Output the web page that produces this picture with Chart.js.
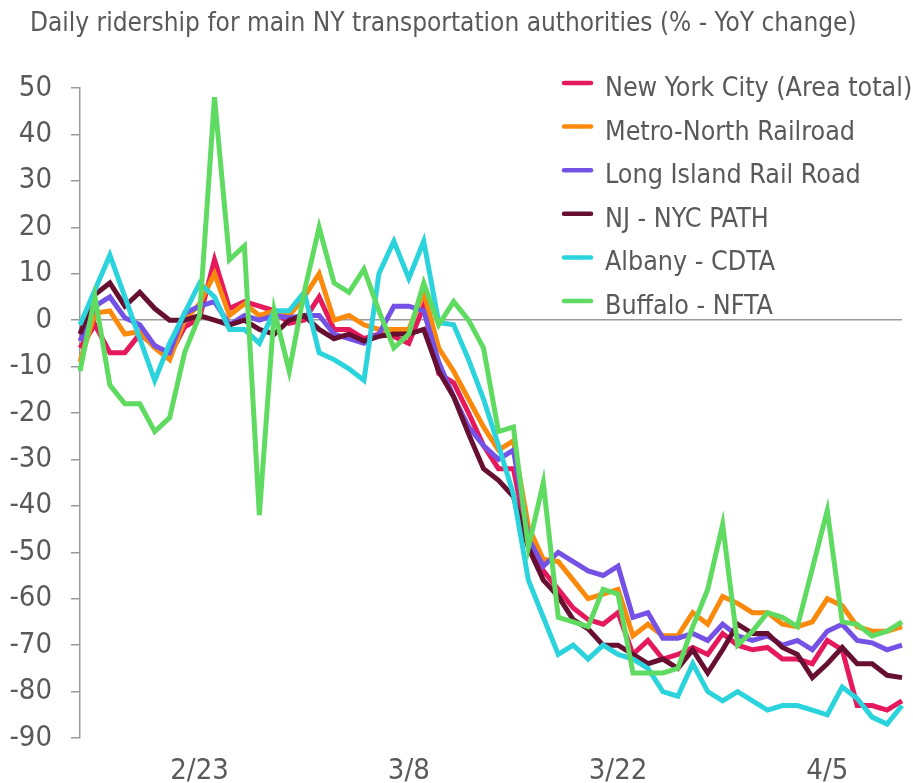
<!DOCTYPE html>
<html>
<head>
<meta charset="utf-8">
<script src="https://cdn.jsdelivr.net/npm/chart.js@4.4.0/dist/chart.umd.min.js"></script>
<style>
  body { margin: 0; background: #fff; }
</style>
</head>
<body>
<canvas id="ridership" width="913" height="783"></canvas>
<script>
// days from 2/15 to 4/10
const days = ['2/15','2/16','2/17','2/18','2/19','2/20','2/21','2/22','2/23','2/24','2/25','2/26','2/27','2/28','2/29',
  '3/1','3/2','3/3','3/4','3/5','3/6','3/7','3/8','3/9','3/10','3/11','3/12','3/13','3/14','3/15','3/16','3/17','3/18',
  '3/19','3/20','3/21','3/22','3/23','3/24','3/25','3/26','3/27','3/28','3/29','3/30','3/31',
  '4/1','4/2','4/3','4/4','4/5','4/6','4/7','4/8','4/9','4/10'];
const shownTicks = ['2/23', '3/8', '3/22', '4/5'];

const nyc = [-6, -1, -7, -7, -3, -5.5, -7.5, -1.5, 0.5, 13, 2.5, 4, 3, 2, -0.7, 0, 5, -2, -2, -4, -3, -3.5, -5, 3,
  -11.5, -13.5, -20, -27, -32, -32, -48, -54, -58, -62, -64.5, -65.5, -63, -72, -69, -73, -72, -70.5, -72, -67.5,
  -70, -71, -70.5, -73, -73, -74, -69, -71, -83, -83, -84, -82];
const metroNorth = [-9, 1.5, 2, -3, -2.5, -6, -8.5, 0, 3.5, 10, 1, 3.5, 1, 2, 1, 5, 10, 0, 1, -1, -2, -2, -2, 6,
  -6, -11, -17, -23, -28, -26, -44.5, -51.5, -52, -56, -60, -59, -58, -68, -65.5, -68, -68, -63, -65.5, -59.5,
  -61, -63, -63, -65.5, -66, -65, -60, -61.5, -66, -67, -67, -66];
const lirr = [-4.5, 3, 5, 0.5, -1, -5.5, -7, 1.5, 3, 4, -1, 1, 0, 1, 0.5, 1, 1, -3, -4, -5, -3, 3, 3, 2,
  -9, -16.5, -23, -27, -30, -28, -47, -53, -50, -52, -54, -55, -53, -64, -63, -68.5, -68.5, -67.5, -69, -65.5,
  -68, -69, -68, -70, -69, -71, -67, -65.5, -69, -69.5, -71, -70];
const path = [-3, 5.5, 8, 3, 6, 2.5, 0, 0, 1, 0, -1, 0, -2, -3, 0, 1, -2, -4, -3, -4.5, -3.5, -3, -3, -2,
  -11, -16.5, -24.5, -32, -34.5, -38, -49, -56, -59.5, -64.5, -66.5, -70, -70, -72, -74, -73, -75, -71, -76, -71,
  -65.5, -67.5, -67.5, -70.5, -72, -77, -74, -70.5, -74, -74, -76.5, -77];
const albany = [-1, 6.5, 14, 5, -4, -13, -5, 1.5, 8, 5, -2, -2, -5, 2, 2, 6, -7, -8.5, -10.5, -13, 10, 17, 9, 17,
  -0.5, -1, -8.5, -17, -27, -37.5, -56, -64, -72, -70, -73, -70, -72, -73, -75, -80, -81, -74, -80, -82,
  -80, -82, -84, -83, -83, -84, -85, -79, -81.5, -85.5, -87, -83];
const buffalo = [-11, 5, -14, -18, -18, -24, -21, -7, 1, 48, 13, 16, -42, 2, -11, 6, 20, 8, 6, 11, 2, -6, -3, 8,
  -1, 4, 0, -6, -24, -23, -49, -35, -64, -65, -66, -58, -59, -76, -76, -76, -75, -66, -58, -44,
  -70, -67, -63, -64, -66, -53.5, -41, -65, -65.5, -68, -67, -65];

const seriesNames = ['New York City (Area total)', 'Metro-North Railroad', 'Long Island Rail Road',
  'NJ - NYC PATH', 'Albany - CDTA', 'Buffalo - NFTA'];
const seriesData = [nyc, metroNorth, lirr, path, albany, buffalo];
const colors = ['#e5195b', '#fb8a0c', '#7552e6', '#660f30', '#2bd4dc', '#5fdb62'];

const FONT = '"DejaVu Sans Condensed", "DejaVu Sans", sans-serif';
const TEXT = '#595959';

// title + legend drawn by hand so the legend can sit inside the plot
const overlay = {
  id: 'overlay',
  afterDraw(chart) {
    const c = chart.ctx;
    c.save();
    c.fillStyle = TEXT;
    c.font = '26px ' + FONT;
    c.textBaseline = 'alphabetic';
    c.textAlign = 'left';
    c.fillText('Daily ridership for main NY transportation authorities (% - YoY change)', 30, 31);

    c.font = '26.6px ' + FONT;
    seriesNames.forEach((name, i) => {
      const y = 83 + i * 43.6;
      c.strokeStyle = colors[i];
      c.lineWidth = 4.5;
      c.lineCap = 'round';
      c.beginPath();
      c.moveTo(564, y);
      c.lineTo(591, y);
      c.stroke();
      c.fillStyle = TEXT;
      c.fillText(name, 605, y + 13);
    });
    c.restore();
  }
};

new Chart(document.getElementById('ridership').getContext('2d'), {
  type: 'line',
  data: {
    labels: days,
    datasets: seriesData.map((vals, i) => ({
      label: seriesNames[i],
      data: vals,
      borderColor: colors[i],
      backgroundColor: colors[i],
      borderWidth: 5,
      pointRadius: 0,
      tension: 0,
      order: 6 - i
    }))
  },
  options: {
    responsive: false,
    animation: false,
    layout: { padding: { left: 10, right: 11, top: 88, bottom: 0 } },
    plugins: {
      legend: { display: false },
      tooltip: { enabled: false }
    },
    scales: {
      x: {
        offset: false,
        grid: { display: false },
        border: { display: false },
        ticks: {
          autoSkip: false,
          maxRotation: 0,
          padding: 8,
          color: TEXT,
          font: { family: FONT, size: 29 },
          callback: (v, i) => shownTicks.includes(days[i]) ? days[i] : ''
        },
        afterFit: (s) => { s.height = 45; }
      },
      y: {
        min: -90,
        max: 50,
        ticks: {
          stepSize: 10,
          padding: 19,
          color: TEXT,
          font: { family: FONT, size: 29 }
        },
        grid: {
          color: (ctx) => ctx.tick && ctx.tick.value === 0 ? '#9a9a9a' : 'rgba(0,0,0,0)',
          tickColor: '#9a9a9a',
          tickLength: 9,
          lineWidth: 1.5
        },
        border: { color: '#9a9a9a', width: 1.5 },
        afterFit: (s) => { s.width = 70; }
      }
    }
  },
  plugins: [overlay]
});
</script>
</body>
</html>
